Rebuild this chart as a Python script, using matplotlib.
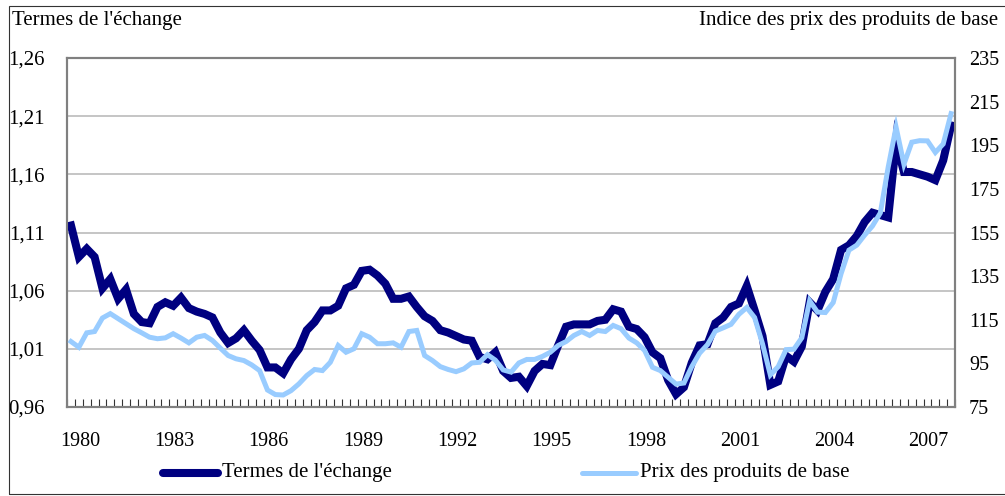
import numpy as np
import matplotlib
matplotlib.use('Agg')
import matplotlib.pyplot as plt
from matplotlib.lines import Line2D
from matplotlib.patches import Rectangle

# données trimestrielles 1980T1 - 2008T1
termes_echange = [
    1.116, 1.089, 1.096, 1.089, 1.062, 1.070, 1.053, 1.061,
    1.040, 1.033, 1.032, 1.046, 1.050, 1.047, 1.054, 1.045,
    1.042, 1.040, 1.037, 1.024, 1.015, 1.019, 1.026, 1.017,
    1.009, 0.994, 0.994, 0.989, 1.001, 1.010, 1.026, 1.033,
    1.043, 1.043, 1.047, 1.062, 1.065, 1.077, 1.078, 1.073,
    1.066, 1.053, 1.053, 1.055, 1.046, 1.038, 1.034, 1.026,
    1.024, 1.021, 1.018, 1.017, 1.003, 1.001, 1.007, 0.991,
    0.985, 0.986, 0.978, 0.991, 0.997, 0.996, 1.013, 1.029,
    1.031, 1.031, 1.031, 1.034, 1.035, 1.044, 1.042, 1.029,
    1.027, 1.020, 1.007, 1.002, 0.983, 0.971, 0.977, 0.998,
    1.013, 1.014, 1.032, 1.037, 1.046, 1.049, 1.064, 1.043,
    1.021, 0.979, 0.982, 1.004, 0.999, 1.012, 1.050, 1.043,
    1.059, 1.070, 1.095, 1.099, 1.107, 1.119, 1.127, 1.125,
    1.123, 1.188, 1.162, 1.162, 1.160, 1.158, 1.155, 1.172,
    1.202,
]
prix_produits = [
    105.0, 102.4, 109.0, 109.6, 115.8, 117.8, 115.5, 113.2,
    110.9, 109.0, 107.0, 106.3, 106.7, 108.6, 106.6, 104.4,
    107.0, 107.8, 105.5, 102.0, 98.6, 97.1, 96.3, 94.3,
    91.7, 82.8, 80.7, 80.5, 82.5, 85.6, 89.4, 92.2,
    91.7, 95.5, 103.2, 100.1, 101.7, 108.6, 107.0, 104.0,
    104.0, 104.4, 102.4, 109.6, 110.1, 98.6, 96.3, 93.5,
    92.2, 91.2, 92.5, 95.2, 95.5, 99.0, 96.5, 92.0,
    91.0, 95.2, 96.8, 96.8, 98.2, 100.1, 103.2, 105.0,
    107.8, 109.6, 107.8, 110.1, 109.6, 112.4, 110.9, 106.6,
    104.4, 100.9, 93.2, 91.7, 88.6, 85.5, 86.0, 93.5,
    99.7, 103.6, 109.8, 111.3, 112.9, 117.5, 120.6, 116.0,
    104.0, 89.7, 93.5, 101.3, 101.5, 106.7, 123.7, 118.5,
    118.3, 122.9, 136.1, 146.9, 149.2, 153.8, 158.0, 164.0,
    185.0, 203.3, 186.3, 196.4, 197.1, 197.0, 191.7, 195.6,
    209.5,
]
annees = ['1980', '1983', '1986', '1989', '1992',
          '1995', '1998', '2001', '2004', '2007']
gauche_ticks = [0.96, 1.01, 1.06, 1.11, 1.16, 1.21, 1.26]
droite_ticks = [75, 95, 115, 135, 155, 175, 195, 215, 235]

plt.rcParams['font.family'] = ['Liberation Serif', 'DejaVu Serif']
fs = 15

fig = plt.figure(figsize=(10.05, 4.96), dpi=100, facecolor='white')
ax = fig.add_axes([67 / 1005, 1 - 407 / 496, 888 / 1005, 349 / 496])
ax2 = ax.twinx()

x = np.arange(len(termes_echange))

# axe de gauche : termes de l'échange
ax.plot(x, termes_echange, color='#000080', linewidth=5.8,
        solid_joinstyle='miter', zorder=3)
ax.set_ylim(0.96, 1.26)
ax.set_yticks(gauche_ticks)
ax.set_yticklabels([('%.2f' % v).replace('.', ',') for v in gauche_ticks],
                   fontsize=fs)
ax.grid(axis='y', color='#c0c0c0', linewidth=1.3)
ax.set_axisbelow(True)

# axe de droite : prix des produits de base
ax2.plot(x, prix_produits, color='#99ccff', linewidth=3.6,
         solid_joinstyle='miter', zorder=4)
ax2.set_ylim(75, 235)
ax2.set_yticks(droite_ticks)
ax2.set_yticklabels([str(v) for v in droite_ticks], fontsize=14.5)

# axe des x : trimestres, étiquettes tous les 3 ans
ax.set_xlim(-0.51, 112.25)
ax.set_xticks([12 * k + 1.15 for k in range(len(annees))])
ax.set_xticklabels(annees, fontsize=14.5)
ax.set_xticks(np.arange(-0.5, 112.6, 1), minor=True)
ax.tick_params(axis='x', which='major', length=0, pad=18)
ax.tick_params(axis='x', which='minor', direction='in', length=6,
               width=0.8, color='#333333')
ax.tick_params(axis='y', length=0, pad=16)
ax2.tick_params(axis='y', length=0, pad=10)

for a in (ax, ax2):
    for s in a.spines.values():
        s.set_color('#808080')
        s.set_linewidth(1.5)

# titres des axes
fig.text(12 / 1005, 1 - 20 / 496, "Termes de l'échange", fontsize=fs,
         ha='left', va='center')
fig.text(998 / 1005, 1 - 20 / 496, 'Indice des prix des produits de base',
         fontsize=fs, ha='right', va='center')

# légende en bas
ly = 1 - 473 / 496
fig.add_artist(Line2D([163 / 1005, 218 / 1005], [ly, ly], color='#000080',
                      linewidth=5.8, solid_capstyle='round'))
fig.text(222 / 1005, ly, "Termes de l'échange", fontsize=fs,
         ha='left', va='center')
fig.add_artist(Line2D([582 / 1005, 636 / 1005], [ly, ly], color='#99ccff',
                      linewidth=3.6, solid_capstyle='round'))
fig.text(640 / 1005, ly, 'Prix des produits de base', fontsize=fs,
         ha='left', va='center')

# cadre autour de la figure (bord droit hors de l'image)
fig.add_artist(Rectangle((9 / 1005, 2 / 496), 1010 / 1005, 488 / 496,
                         transform=fig.transFigure, fill=False,
                         edgecolor='#333333', linewidth=0.8))

plt.savefig('out.png', dpi=100)
